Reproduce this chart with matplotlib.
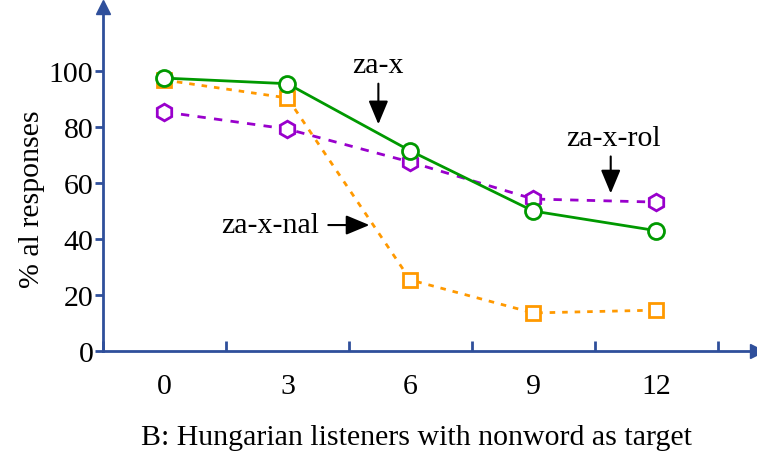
import matplotlib.pyplot as plt

plt.rcParams['font.family'] = ['Liberation Serif', 'DejaVu Serif']

delays = ["0", "3", "6", "9", "12"]
za_x = [97.5, 95.5, 71.5, 50, 43]
za_x_nal = [96.8, 90.4, 25.4, 13.6, 14.6]
za_x_rol = [85.4, 79.3, 67.5, 54.3, 53.2]

axis_blue = "#2f4f9b"
fs = 21.5

fig = plt.figure(figsize=(7.57, 4.52), dpi=100)
ax = fig.add_axes([103 / 757, 100 / 452, 654 / 757, 344 / 452])

pos = list(range(len(delays)))

ax.plot(pos, za_x_rol, color="#9900cc", ls=(0, (3, 3)), lw=2, marker="h",
        ms=12, mfc="white", mew=2, zorder=3)
ax.plot(pos, za_x_nal, color="#ff9900", ls=(0, (2, 2.5)), lw=2, marker="s",
        ms=10.5, mfc="white", mew=2, zorder=4)
ax.plot(pos, za_x, color="#009900", ls="-", lw=2, marker="o",
        ms=11.5, mfc="white", mew=2, zorder=5)

ax.set_xlim(-0.5, 4.82)
ax.set_ylim(0, 122.9)

# labels with arrows
arw = dict(arrowstyle="-|>,head_length=0.6,head_width=0.25", color="black",
           lw=1.5, mutation_scale=24)
ax.annotate("", xy=(1.74, 80), xytext=(1.74, 96.5), arrowprops=arw)
ax.text(1.74, 97.5, "za-x", ha="center", va="bottom", fontsize=fs)
ax.annotate("", xy=(3.63, 55.3), xytext=(3.63, 70.5), arrowprops=arw)
ax.text(3.65, 71.5, "za-x-rol", ha="center", va="bottom", fontsize=fs)
ax.annotate("", xy=(1.69, 45), xytext=(1.31, 45), arrowprops=arw)
ax.text(1.26, 45, "za-x-nal", ha="right", va="center", fontsize=fs)

for s in ["top", "right"]:
    ax.spines[s].set_visible(False)
for s in ["left", "bottom"]:
    ax.spines[s].set_color(axis_blue)
    ax.spines[s].set_linewidth(2)

ax.set_yticks([0, 20, 40, 60, 80, 100])
ax.set_xticks([-0.5, 0.5, 1.5, 2.5, 3.5, 4.5])
ax.set_xticklabels([])
ax.set_xticks(pos, minor=True)
ax.set_xticklabels(delays, minor=True)
ax.tick_params(axis="x", which="major", direction="in", length=7, width=2, color=axis_blue)
ax.tick_params(axis="x", which="minor", length=0, pad=16, labelsize=fs)
ax.tick_params(axis="y", direction="out", length=6, width=2, color=axis_blue, labelsize=fs, pad=1)

# arrow heads at axis ends
ax.plot(1, 0, ">", color=axis_blue, ms=10, transform=ax.transAxes, clip_on=False)
ax.plot(0, 1, "^", color=axis_blue, ms=10, transform=ax.transAxes, clip_on=False)

ax.set_ylabel("% al responses", fontsize=fs)
ax.yaxis.set_label_coords(-0.089, 0.445)
ax.set_xlabel("B: Hungarian listeners with nonword as target", fontsize=fs)
ax.xaxis.set_label_coords(0.479, -0.212)

fig.savefig("out.png", dpi=100)
